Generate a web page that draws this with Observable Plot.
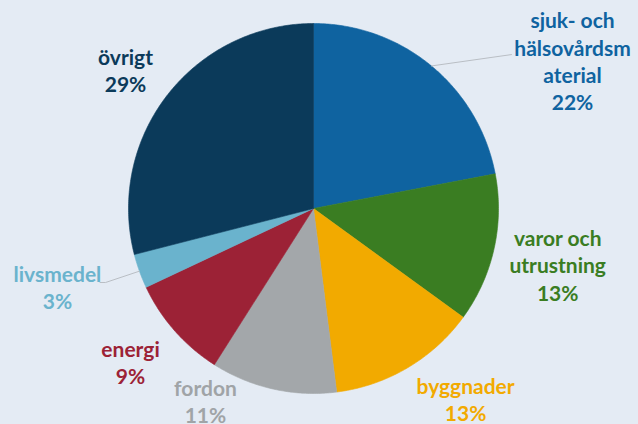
<!DOCTYPE html>
<html><head><meta charset="utf-8">
<script src="https://cdn.jsdelivr.net/npm/d3@7"></script>
<script src="https://cdn.jsdelivr.net/npm/@observablehq/plot@0.6"></script>
<style>
html,body{margin:0;padding:0;background:#e4ebf4;}
#chart{width:638px;height:424px;overflow:hidden;}
</style></head>
<body><div id="chart"></div>
<script>
// Data
const categories = ["sjuk- och hälsovårdsmaterial","varor och utrustning","byggnader","fordon","energi","livsmedel","övrigt"];
const values = [22, 13, 13, 11, 9, 3, 29];
const labelTexts = ["sjuk- och\nhälsovårdsm\naterial","varor och\nutrustning","byggnader","fordon","energi","livsmedel","övrigt"];
const colors = ["#0f63a0","#3a7d22","#f2aa00","#a3a7aa","#9c2236","#6ab3cd","#0b3a5a"];
const textColors = ["#0f63a0","#3a7d22","#f2aa00","#a0a4a7","#9c2236","#6ab3cd","#0b3a5a"];
// label layout (pie-radius units, relative to centre)
const labelPos = [[1.40,0.80],[1.320,-0.303],[0.822,-1.03],[-0.584,-1.038],[-0.989,-0.827],[-1.384,-0.422],[-1.016,0.751]];
const leaderEnd = {0:[1.07,0.832], 5:[-1.124,-0.40]};

const arcs = d3.pie().sort(null).value(d => d)(values);
const slicePts = [];
arcs.forEach((a, i) => {
  slicePts.push({cat: categories[i], x: 0, y: 0});
  const n = Math.max(2, Math.ceil((a.endAngle - a.startAngle) / 0.01));
  for (let k = 0; k <= n; k++) {
    const t = a.startAngle + (a.endAngle - a.startAngle) * k / n;
    slicePts.push({cat: categories[i], x: Math.sin(t), y: Math.cos(t)});
  }
  slicePts.push({cat: categories[i], x: 0, y: 0});
});
const labels = categories.map((c, i) => ({cat: c, text: labelTexts[i] + "\n" + values[i] + "%", x: labelPos[i][0], y: labelPos[i][1], color: textColors[i]}));
const leaders = [];
Object.entries(leaderEnd).forEach(([i, e]) => {
  const a = arcs[+i]; const m = (a.startAngle + a.endAngle) / 2;
  leaders.push({id: i, x: Math.sin(m), y: Math.cos(m)});
  leaders.push({id: i, x: e[0], y: e[1]});
  if (+i === 5) leaders.push({id: i, x: e[0] - 0.03, y: e[1]});
});

const R = 185, cx = 313, cy = 208, W = 638, H = 424;
const chart = Plot.plot({
  width: W, height: H, margin: 0,
  x: {domain: [-cx / R, (W - cx) / R], axis: null},
  y: {domain: [-(H - cy) / R, cy / R], axis: null},
  color: {domain: categories, range: colors},
  style: {background: "#e4ebf4", fontFamily: "Lato, 'Open Sans', sans-serif"},
  marks: [
    Plot.line(slicePts, {x: "x", y: "y", z: "cat", fill: "cat", stroke: "cat", strokeWidth: 0.6, curve: "linear"}),
    Plot.line(leaders, {x: "x", y: "y", z: "id", stroke: "#b9bec4", strokeWidth: 1}),
    Plot.text(labels, {x: "x", y: "y", text: "text", fill: d => d.color, fontSize: 21, fontWeight: "bold", lineHeight: 1.3, textAnchor: "middle"})
  ]
});
document.getElementById("chart").append(chart);
</script></body></html>
